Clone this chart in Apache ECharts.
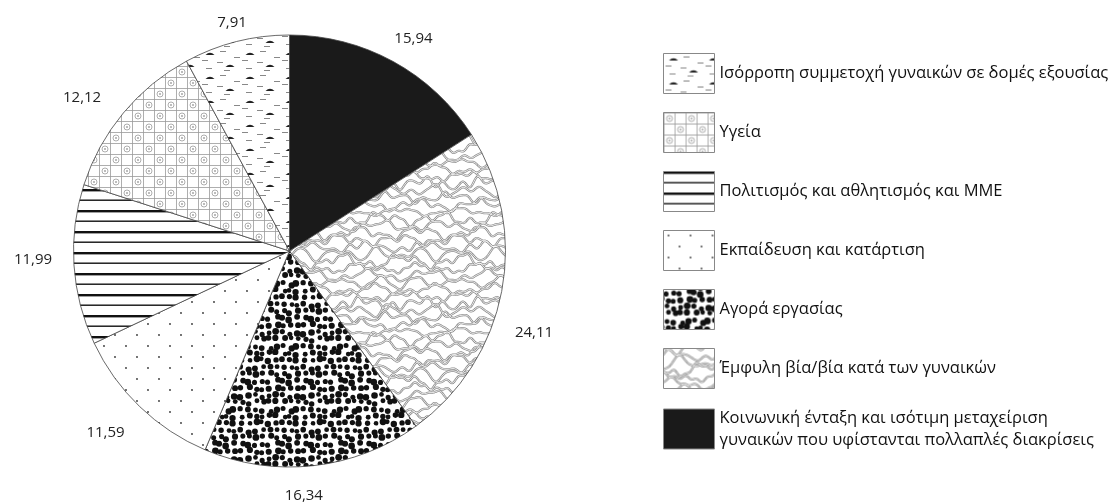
<!DOCTYPE html>
<html><head><meta charset="utf-8">
<script src="https://cdn.jsdelivr.net/npm/echarts@6/dist/echarts.min.js"></script>
<style>html,body{margin:0;background:#fff}#c{width:1120px;height:503px}</style>
</head><body><div id="c"></div>
<script>
// ---- data ----
const categories = [
  "Κοινωνική ένταξη και ισότιμη μεταχείριση\nγυναικών που υφίστανται πολλαπλές διακρίσεις",
  "Έμφυλη βία/βία κατά των γυναικών",
  "Αγορά εργασίας",
  "Εκπαίδευση και κατάρτιση",
  "Πολιτισμός και αθλητισμός και ΜΜΕ",
  "Υγεία",
  "Ισόρροπη συμμετοχή γυναικών σε δομές εξουσίας"
];
const values = [15.94, 24.11, 16.34, 11.59, 11.99, 12.12, 7.91];
const legendOrder = categories.slice().reverse();

// ---- label nudges (style only) ----
const labelNudge = [[2,11],[-5,34],[-14,-8],[-8,-1],[-3,-8],[-12,9],[5,18]];

// ---- texture helpers (decorative fills, not data) ----
function tile(w,h,draw){const c=document.createElement('canvas');c.width=w;c.height=h;const g=c.getContext('2d');g.fillStyle='#fff';g.fillRect(0,0,w,h);draw(g,w,h);return {image:c,repeat:'repeat'};}
function seq(seed){let s=seed>>>0;return()=>{s=(s*1664525+1013904223)>>>0;return s/4294967296;};}

const solid = '#1a1a1a';
const wavy = tile(120,120,(g,w,h)=>{
  g.lineCap='round';g.lineJoin='round';
  const r=seq(11);
  const lines=[];
  const n=17;
  for(let i=0;i<n;i++){
    const y0=i*h/n;const pts=[];
    const k1=2+Math.floor(r()*2), k2=4+Math.floor(r()*4), k3=9+Math.floor(r()*3);
    const a1=2.5+r()*2.5, a2=1.5+r()*2, a3=0.6+r()*0.8;
    const p1=r()*6.28, p2=r()*6.28, p3=r()*6.28;
    for(let x=0;x<=w;x+=1){
      const t=2*Math.PI*x/w;
      pts.push([x, y0+a1*Math.sin(k1*t+p1)+a2*Math.sin(k2*t+p2)+a3*Math.sin(k3*t+p3)]);
    }
    lines.push(pts);
  }
  for(const pass of [['#8a8a8a',2.2],['#ffffff',0.8]]){
    g.strokeStyle=pass[0];g.lineWidth=pass[1];
    for(const pts of lines){for(const oy of[-h,0,h]){g.beginPath();pts.forEach((p,k)=>k?g.lineTo(p[0],p[1]+oy):g.moveTo(p[0],p[1]+oy));g.stroke();}}
  }
});
const blobs = tile(63,63,(g,w,h)=>{
  const r=seq(5);g.fillStyle='#111';
  for(let i=0;i<9;i++)for(let j=0;j<9;j++){
    const x=i*7+3.5+(r()-0.5)*4, y=j*7+3.5+(r()-0.5)*4, rad=2.3+r()*1.1;
    for(const ox of[-w,0,w])for(const oy of[-h,0,h]){g.beginPath();g.arc(x+ox,y+oy,rad,0,7);g.fill();}
  }
});
const sparse = tile(22,22,(g)=>{g.fillStyle='#333';[[5,5],[16,16]].forEach(p=>{g.beginPath();g.arc(p[0],p[1],0.9,0,7);g.fill();});});
const hlines = tile(10,21,(g)=>{g.fillStyle='#111';g.fillRect(0,0,10,2.4);g.fillRect(0,10.5,10,1.4);});
const gridc = tile(22,22,(g)=>{g.strokeStyle='#999';g.lineWidth=0.8;
  [0.5,11.5].forEach(v=>{g.beginPath();g.moveTo(v,0);g.lineTo(v,22);g.stroke();g.beginPath();g.moveTo(0,v);g.lineTo(22,v);g.stroke();});
  [[6,6],[17,17]].forEach(p=>{g.beginPath();g.arc(p[0],p[1],3,0,7);g.stroke();g.fillStyle='#666';g.beginPath();g.arc(p[0],p[1],0.8,0,7);g.fill();});
});
const dashes = tile(40,24,(g)=>{
  g.fillStyle='#222';
  [[10,6],[30,18]].forEach(p=>{g.beginPath();g.moveTo(p[0]-4.5,p[1]+1);g.quadraticCurveTo(p[0],p[1]-3.5,p[0]+4.5,p[1]+1);g.closePath();g.fill();});
  g.fillStyle='#888';
  [[20,3],[2,12],[17,14],[34,9],[24,22],[6,20]].forEach(p=>g.fillRect(p[0],p[1],6,1));
});
const fills = [solid, wavy, blobs, sparse, hlines, gridc, dashes];

const chart = echarts.init(document.getElementById('c'), null, {renderer:'canvas'});
chart.setOption({
  animation:false,
  backgroundColor:'#fff',
  legend:{
    orient:'vertical', left:663, top:53, padding:0, itemWidth:51, itemHeight:40, itemGap:18,
    icon:'rect', selectedMode:false, data:legendOrder,
    textStyle:{fontSize:16.5, color:'#111', fontFamily:'Open Sans', lineHeight:22},
    itemStyle:{borderColor:'#888', borderWidth:1}
  },
  series:[{
    type:'pie', center:[289.5,251], radius:216, startAngle:90, clockwise:true,
    avoidLabelOverlap:false, emphasis:{disabled:true},
    itemStyle:{borderColor:'#444', borderWidth:0.8},
    label:{position:'outside', fontSize:15, color:'#222', fontFamily:'Open Sans', distanceToLabelLine:0,
      formatter:p=>p.value.toFixed(2).replace('.',',')},
    labelLine:{show:false, length:38, length2:0},
    labelLayout:p=>({dx:labelNudge[p.dataIndex][0], dy:labelNudge[p.dataIndex][1], align:'center', verticalAlign:'middle'}),
    data: categories.map((n,i)=>({name:n, value:values[i], itemStyle:{color:fills[i]}}))
  }]
});
</script></body></html>
